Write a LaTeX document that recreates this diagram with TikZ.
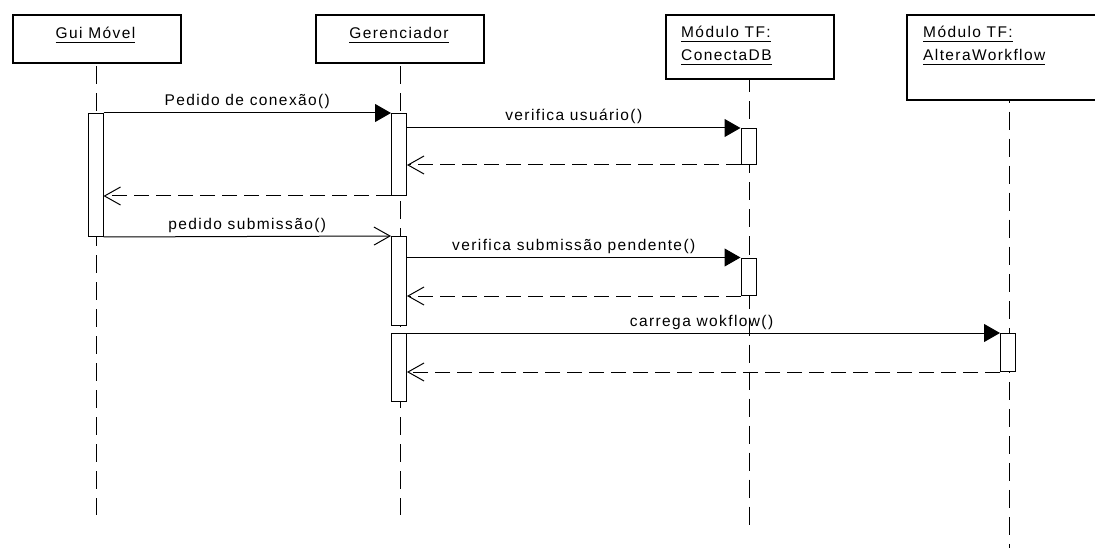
\documentclass[tikz,border=0pt]{standalone}
\usepackage{fontspec}
\setmainfont{Liberation Sans}
\newfontfamily\lbl{Liberation Sans}[LetterSpace=9]
\usetikzlibrary{arrows.meta,backgrounds,calc}
\newcommand\ulx[1]{\setbox0\hbox{#1}\rlap{\rule[-4.5pt]{\wd0}{1pt}}\box0}
\begin{document}
\begin{tikzpicture}[x=1pt,y=-1pt,
  head/.style={draw,line width=2pt,fill=white,inner sep=0pt,anchor=north west},
  bar/.style={draw,line width=1pt,fill=white,inner sep=0pt,minimum width=15pt,anchor=north},
  life/.style={line width=1pt,dash pattern=on 18pt off 9pt},
  call/.style={line width=1pt,-{Triangle[length=16pt,width=18pt]}},
  async/.style={line width=1pt,-{Straight Barb[length=16pt,width=18pt]}},
  ret/.style={line width=1pt,dash pattern=on 15pt off 7pt,-{Straight Barb[length=16pt,width=18pt]}},
  lab/.style={font=\lbl\fontsize{15.5}{18}\selectfont,anchor=base,inner sep=0pt,yshift=7pt},
  txt/.style={font=\lbl\fontsize{15.5}{18}\selectfont,inner sep=0pt}]
\useasboundingbox (0,0) rectangle (1095,548);

% header boxes
\node[head,minimum width=168pt,minimum height=47.5pt] (gui) at (11.5,14.5) {};
\node[head,minimum width=168pt,minimum height=47.5pt] (ger) at (315,14.5) {};
\node[head,minimum width=168pt,minimum height=64pt] (con) at (664.5,14.5) {};
\node[head,minimum width=204pt,minimum height=84.5pt] (alt) at (906,14.5) {};

\node[txt,anchor=base] (tgui) at (95.5,39) {\ulx{Gui Móvel}};
\node[txt,anchor=base] (tger) at (399,39) {\ulx{Gerenciador}};
\node[txt,anchor=base west] (tc1) at (681,38) {\ulx{Módulo TF:}};
\node[txt,anchor=base west] (tc2) at (681,61) {\ulx{ConectaDB}};
\node[txt,anchor=base west] (ta1) at (923,38) {\ulx{Módulo TF:}};
\node[txt,anchor=base west] (ta2) at (923,61) {\ulx{AlteraWorkflow}};

% activation bars
\node[bar,minimum height=123pt] (g1) at (95.5,113) {};
\node[bar,minimum height=82pt] (r1) at (399,113) {};
\node[bar,minimum height=89pt] (r2) at (399,236) {};
\node[bar,minimum height=68pt] (r3) at (399,333) {};
\node[bar,minimum height=36pt] (c1) at (748.5,128) {};
\node[bar,minimum height=37.5pt] (c2) at (748.5,257.5) {};
\node[bar,minimum height=38pt] (a1) at (1008,333) {};

% lifelines
\begin{scope}[on background layer]
\draw[life] (gui.center) -- (gui.center |- 0,515);
\draw[life] (ger.center) -- (ger.center |- 0,515);
\draw[life] (con.center) -- (con.center |- 0,531);
\draw[life] (alt.center) -- (alt.center |- 0,560);
\end{scope}

% messages
\draw[call] (g1.north east) -- node[lab] (l1) {Pedido de conexão()} (r1.north west);
\draw[call] (r1.east |- c1.north) -- node[lab] (l2) {verifica usuário()} (c1.north west);
\draw[ret] (c1.south west) -- (r1.east |- c1.south);
\draw[ret] (r1.south west) -- (g1.east |- r1.south);
\draw[async] (g1.south east) -- node[lab] (l3) {pedido submissão()} (r2.north west);
\draw[call] (r2.east |- c2.north) -- node[lab] (l4) {verifica submissão pendente()} (c2.north west);
\draw[ret] (c2.south west) -- (r2.east |- c2.south);
\draw[call] (r3.north west) -- node[lab,pos=0.51] (l5) {carrega wokflow()} (a1.north west);
\draw[ret] (a1.south west) -- (r3.east |- a1.south);
\end{tikzpicture}
\end{document}
